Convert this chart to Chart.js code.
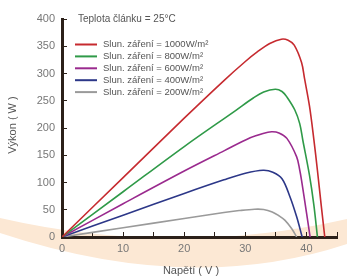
<!DOCTYPE html>
<html>
<head>
<meta charset="utf-8">
<script src="https://cdn.jsdelivr.net/npm/chart.js@4"></script>
<style>
  html, body { margin: 0; padding: 0; background: #fff; }
</style>
</head>
<body>
<canvas id="pvChart" width="347" height="279" style="width:347px;height:279px;display:block"></canvas>
<script>
// P-V curves, one voltage/power pair of arrays per irradiance
const seriesLabels = [
    "Slun. záření = 1000W/m²",
    "Slun. záření = 800W/m²",
    "Slun. záření = 600W/m²",
    "Slun. záření = 400W/m²",
    "Slun. záření = 200W/m²"
];
const volts1000 = [0, 10, 20, 26.5, 30, 32, 34, 35.9, 37, 38, 39.2, 39.7, 40.5, 41.2, 41.8, 42.4, 43];
const power1000 = [0, 109, 218, 287, 322, 340, 355, 363, 361, 352, 320, 290, 240, 180, 122, 60, 0];
const volts800 = [0, 10, 20, 28.4, 31.3, 33, 34.9, 36, 36.8, 38.1, 38.9, 39.4, 40.5, 41.2, 41.8];
const power800 = [0, 83, 166, 232, 255, 266, 271, 267, 257, 233, 208, 178, 113, 60, 0];
const volts600 = [0, 10, 20, 26.5, 30.8, 32.9, 34.3, 35.5, 36.8, 38.4, 38.9, 39.2, 40, 40.6];
const power600 = [0, 61, 121, 158, 182, 190, 193, 191, 181, 147, 123, 104, 45, 0];
const volts400 = [0, 10, 20, 26.5, 30, 32.9, 34.5, 36, 37.3, 38.4, 39.3];
const power400 = [0, 40, 80, 105, 117, 122.5, 119, 107, 74, 37, 0];
const volts200 = [0, 10, 20, 26.5, 29, 31.5, 33, 34.4, 35.5, 36.5, 37.6, 38.4];
const power200 = [0, 17, 34, 45, 48.5, 51, 50.5, 46, 39, 30.5, 15, 0];
const tempNote = "Teplota článku = 25°C";
const xAxisTitle = "Napětí ( V )";
const yAxisTitle = "Výkon ( W )";

const lineColors = ["#c62a2f", "#2f9a48", "#9a2a8e", "#2c3788", "#9a9a9a"];
const axisColor = "#2b2019";
const fontFamily = "'Liberation Sans', Arial, sans-serif";

const voltSets = [volts1000, volts800, volts600, volts400, volts200];
const powerSets = [power1000, power800, power600, power400, power200];

const datasets = seriesLabels.map((label, i) => ({
    label: label,
    data: voltSets[i].map((v, j) => ({ x: v, y: powerSets[i][j] })),
    borderColor: lineColors[i],
    borderWidth: 1.6,
    pointRadius: 0,
    tension: 0.35,
    fill: false
}));

// peach swoosh behind the plot
const backdrop = {
    id: 'backdrop',
    beforeDraw(chart) {
        const ctx = chart.ctx;
        ctx.save();
        ctx.fillStyle = "#fce8d4";
        ctx.beginPath();
        ctx.moveTo(0, 218);
        ctx.quadraticCurveTo(175, 258, 347, 219);
        ctx.lineTo(347, 244);
        ctx.quadraticCurveTo(190, 296, 0, 233);
        ctx.closePath();
        ctx.fill();
        ctx.restore();
    }
};

// legend, note and axis titles
const annotations = {
    id: 'annotations',
    afterDraw(chart) {
        const ctx = chart.ctx;
        ctx.save();
        ctx.fillStyle = "#555";
        ctx.textBaseline = "middle";
        ctx.font = "10px " + fontFamily;
        ctx.fillText(tempNote, 78, 19);

        chart.data.datasets.forEach((ds, i) => {
            const y = 44.5 + i * 11.9;
            ctx.strokeStyle = ds.borderColor;
            ctx.lineWidth = 2;
            ctx.beginPath();
            ctx.moveTo(75, y);
            ctx.lineTo(97, y);
            ctx.stroke();
            ctx.fillStyle = "#555";
            ctx.font = "9.5px " + fontFamily;
            ctx.fillText(ds.label, 103, y);
        });

        ctx.font = "11px " + fontFamily;
        ctx.fillStyle = "#555";
        ctx.textAlign = "center";
        ctx.fillText(xAxisTitle, 191, 271);
        ctx.translate(13, 125);
        ctx.rotate(-Math.PI / 2);
        ctx.fillText(yAxisTitle, 0, 0);
        ctx.restore();
    }
};

new Chart(document.getElementById("pvChart"), {
    type: 'line',
    data: { datasets: datasets },
    options: {
        responsive: false,
        animation: false,
        layout: { padding: { top: 19, right: 0, left: 0, bottom: 0 } },
        plugins: {
            legend: { display: false },
            tooltip: { enabled: false }
        },
        scales: {
            x: {
                type: 'linear',
                min: 0,
                max: 45,
                ticks: {
                    stepSize: 5,
                    autoSkip: false,
                    maxRotation: 0,
                    padding: 10,
                    color: "#777",
                    font: { size: 11, family: fontFamily },
                    callback: v => (v % 10 === 0 && v < 45) ? v : ''
                },
                grid: { drawOnChartArea: false, tickLength: -5, color: axisColor, tickWidth: 1 },
                border: { color: axisColor, width: 3 },
                afterFit(scale) { scale.height = 42; }
            },
            y: {
                min: 0,
                max: 400,
                ticks: {
                    stepSize: 50,
                    padding: 12,
                    color: "#777",
                    font: { size: 11, family: fontFamily }
                },
                grid: { drawOnChartArea: false, tickLength: -5, color: axisColor, tickWidth: 1 },
                border: { color: axisColor, width: 3 },
                afterFit(scale) { scale.width = 62; }
            }
        }
    },
    plugins: [backdrop, annotations]
});
</script>
</body>
</html>
